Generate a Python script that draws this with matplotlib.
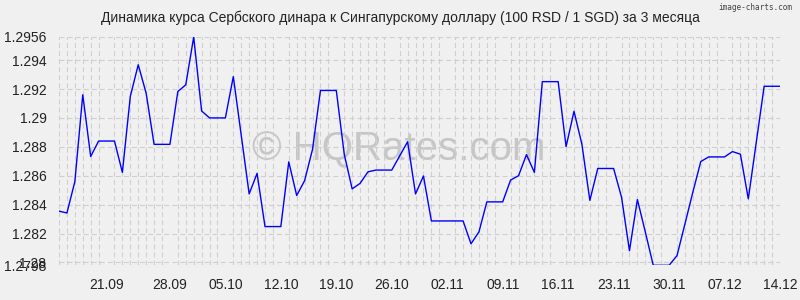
import matplotlib
matplotlib.use("Agg")
import matplotlib.pyplot as plt
import pandas as pd

# ---- data ----
start_date = "2025-09-14"
rates = [
    1.28355, 1.28342, 1.28559, 1.29160, 1.28733, 1.28840, 1.28840, 1.28840,
    1.28623, 1.29149, 1.29368, 1.29171, 1.28817, 1.28817, 1.28817, 1.29183,
    1.29229, 1.29560, 1.29048, 1.29000, 1.29000, 1.29000, 1.29286, 1.28880,
    1.28474, 1.28616, 1.28248, 1.28248, 1.28248, 1.28696, 1.28463, 1.28566,
    1.28783, 1.29190, 1.29190, 1.29190, 1.28749, 1.28509, 1.28547, 1.28627,
    1.28639, 1.28639, 1.28639, 1.28737, 1.28835, 1.28474, 1.28598, 1.28287,
    1.28287, 1.28287, 1.28287, 1.28287, 1.28129, 1.28211, 1.28419, 1.28419,
    1.28419, 1.28570, 1.28600, 1.28746, 1.28623, 1.29251, 1.29251, 1.29251,
    1.28801, 1.29046, 1.28817, 1.28429, 1.28650, 1.28650, 1.28650, 1.28451,
    1.28081, 1.28435, 1.28211, 1.27980, 1.27980, 1.27980, 1.28047, 1.28266,
    1.28486, 1.28698, 1.28730, 1.28730, 1.28730, 1.28767, 1.28749, 1.28440,
    1.28829, 1.29219, 1.29219, 1.29219,
]
tick_dates = ["2025-09-20", "2025-09-28", "2025-10-05", "2025-10-12", "2025-10-19",
              "2025-10-26", "2025-11-02", "2025-11-09", "2025-11-16", "2025-11-23",
              "2025-11-30", "2025-12-07", "2025-12-14"]
tick_labels = ["21.09", "28.09", "05.10", "12.10", "19.10", "26.10", "02.11",
               "09.11", "16.11", "23.11", "30.11", "07.12", "14.12"]
y_ticks = [1.2798, 1.28, 1.282, 1.284, 1.286, 1.288, 1.29, 1.292, 1.294, 1.2956]
y_labels = ["1.2798", "1.28", "1.282", "1.284", "1.286", "1.288", "1.29",
            "1.292", "1.294", "1.2956"]
title = "Динамика курса Сербского динара к Сингапурскому доллару (100 RSD / 1 SGD) за 3 месяца"

dates = pd.date_range(start_date, periods=len(rates), freq="D")

# ---- style ----
plt.rcParams["font.family"] = ["Liberation Sans", "DejaVu Sans"]
plt.rcParams["lines.scale_dashes"] = False
bg = "#f0f0f0"
grid_c = "#cfcfcf"

fig = plt.figure(figsize=(8, 3), dpi=100, facecolor=bg)
ax = fig.add_axes([59 / 800, 1 - 265.3 / 300, (780 - 59) / 800, (265.3 - 37) / 300])
ax.set_facecolor(bg)

ax.plot(dates, rates, color="#0000ff", linewidth=1.0, zorder=3)

ax.set_xlim(dates[0], dates[-1])
ax.set_ylim(y_ticks[0], y_ticks[-1])

ax.set_xticks(pd.to_datetime(tick_dates))
ax.set_xticklabels(tick_labels)
ax.set_xticks(dates, minor=True)
ax.set_yticks(y_ticks)
ax.set_yticklabels(y_labels)

ax.tick_params(axis="both", which="both", length=0, labelsize=10, colors="#222222")
ax.tick_params(axis="y", pad=9)
ax.tick_params(axis="x", pad=9.5)

ax.grid(False)
ax.xaxis.grid(True, which="minor", color=grid_c, linewidth=0.8, linestyle=(0, (3.6, 2.2)))
ax.yaxis.grid(True, which="major", color=grid_c, linewidth=0.8, linestyle=(0, (3.6, 2.2)))
for s in ax.spines.values():
    s.set_visible(False)

# watermark
fig.text(0.499, 1 - 160 / 300, "© HQRates.com", fontsize=29, color="#c6c6c6",
         ha="center", va="baseline", zorder=1,
         family=["Liberation Sans", "DejaVu Sans"])
ax.set_zorder(2)
ax.patch.set_alpha(0)

fig.text(0.5, 1 - 18 / 300, title, fontsize=10, color="#222222", ha="center", va="center")
fig.text(0.991, 1 - 7 / 300, "image-charts.com", fontsize=5.6, color="#444444",
         ha="right", va="center", family=["DejaVu Sans Mono"])

fig.savefig("out.png", dpi=100, facecolor=bg)
